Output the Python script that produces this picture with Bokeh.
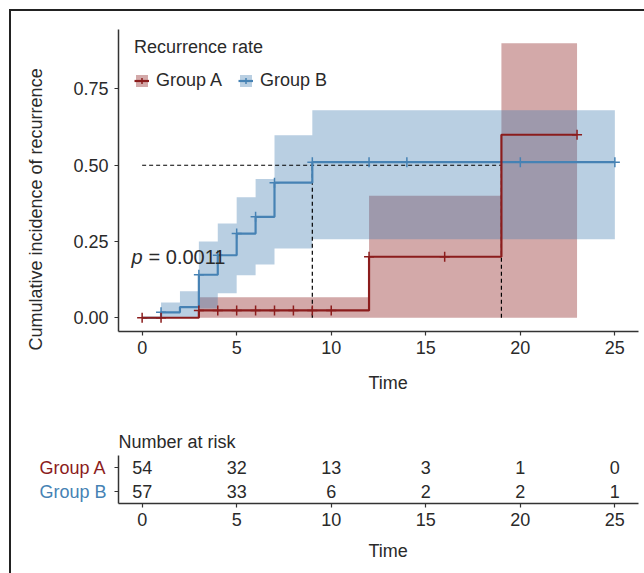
import numpy as np
from bokeh.plotting import figure
from bokeh.models import (Range1d, FixedTicker, NumeralTickFormatter, Legend,
                          LegendItem, Title)
from bokeh.layouts import column, row
from bokeh.core.properties import value
from bokeh.embed import file_html
from bokeh.resources import INLINE

FONT = "Liberation Sans"
TXT = "#2a2a2a"
AX = "#333333"

# ---------------- data ----------------
groups = ["Group A", "Group B"]
colors = ["#8B1C1C", "#4682B4"]

a_time = [0, 3, 12, 19, 23]
a_est = [0.0, 0.024, 0.20, 0.60, 0.60]
a_ci_time = [3, 12, 19, 23]
a_lower = [0.0, 0.0, 0.0, 0.0]
a_upper = [0.067, 0.40, 0.90, 0.90]
a_censor = [0, 1, 3, 4, 5, 6, 7, 8, 9, 10, 12, 16, 23]

b_time = [0, 1, 2, 3, 4, 5, 6, 7, 9, 25]
b_est = [0.0, 0.018, 0.035, 0.141, 0.205, 0.276, 0.331, 0.443, 0.51, 0.51]
b_ci_time = [1, 2, 3, 4, 5, 6, 7, 9, 25]
b_lower = [0.0, 0.0, 0.03, 0.08, 0.139, 0.175, 0.227, 0.257, 0.257]
b_upper = [0.05, 0.087, 0.25, 0.309, 0.395, 0.455, 0.598, 0.68, 0.68]
b_censor = [1, 3, 4, 5, 6, 7, 9, 12, 14, 20, 25]

median_times = [9, 19]
median_level = 0.5

x_ticks = [0, 5, 10, 15, 20, 25]
y_ticks = [0.0, 0.25, 0.50, 0.75]

risk_times = [0, 5, 10, 15, 20, 25]
risk_a = [54, 32, 13, 3, 1, 0]
risk_b = [57, 33, 6, 2, 2, 1]
risk_rows = [1.5, 0.5]

p_value_text = "= 0.0011"
p_pos = (-0.56, 0.2)


def step_lookup(times, est, at):
    idx = np.searchsorted(np.asarray(times), np.asarray(at), side="right") - 1
    return list(np.asarray(est)[idx])


def style_axes(fig):
    for ax in (fig.xaxis, fig.yaxis):
        ax.axis_line_color = AX
        ax.axis_line_width = 1.5
        ax.major_tick_line_color = AX
        ax.major_tick_line_width = 1.2
        ax.major_tick_out = 4
        ax.major_tick_in = 0
        ax.minor_tick_line_color = None
        ax.major_label_text_font = FONT
        ax.major_label_text_font_size = "18px"
        ax.major_label_text_color = TXT
    fig.xgrid.grid_line_color = None
    fig.ygrid.grid_line_color = None
    fig.outline_line_color = None
    fig.border_fill_color = None


def axis_title(fig, text, place, offset, standoff, valign="bottom"):
    t = Title(text=text, align="left", offset=offset, standoff=standoff,
              vertical_align=valign, text_font=FONT, text_font_size="18px",
              text_font_style="normal", text_color=TXT)
    fig.add_layout(t, place)


# ---------------- main plot ----------------
p = figure(width=644, height=409, x_range=Range1d(-1.25, 26.25),
           y_range=Range1d(-0.045, 0.945), output_backend="svg",
           toolbar_location=None, min_border_left=118, min_border_right=6,
           min_border_top=29, min_border_bottom=78)
style_axes(p)
p.xaxis.ticker = FixedTicker(ticks=x_ticks)
p.yaxis.ticker = FixedTicker(ticks=y_ticks)
p.yaxis.formatter = NumeralTickFormatter(format="0.00")
p.xaxis.major_label_standoff = 5
p.yaxis.major_label_standoff = 6
axis_title(p, "Time", "below", 250, 28)
axis_title(p, "Cumulative incidence of recurrence", "left", -19, 46, "top")

ra = p.varea_step(x=a_ci_time, y1=a_lower, y2=a_upper, step_mode="after",
                  fill_color=colors[0], fill_alpha=0.38)
rb = p.varea_step(x=b_ci_time, y1=b_lower, y2=b_upper, step_mode="after",
                  fill_color=colors[1], fill_alpha=0.38)

p.segment(x0=[0], y0=[median_level], x1=[max(median_times)], y1=[median_level],
          line_color="black", line_dash="4 3", line_width=1.2)
p.segment(x0=median_times, y0=[0, 0], x1=median_times,
          y1=[median_level] * len(median_times),
          line_color="black", line_dash="4 3", line_width=1.2)

lb = p.step(x=b_time, y=b_est, mode="after", line_color=colors[1], line_width=2.2)
la = p.step(x=a_time, y=a_est, mode="after", line_color=colors[0], line_width=2.2)
mb = p.scatter(x=b_censor, y=step_lookup(b_time, b_est, b_censor), marker="cross",
               size=10, line_color=colors[1], line_width=1.5)
ma = p.scatter(x=a_censor, y=step_lookup(a_time, a_est, a_censor), marker="cross",
               size=10, line_color=colors[0], line_width=1.5)

p.text(x=[p_pos[0]], y=[p_pos[1]], text=["p"], text_font=value(FONT),
       text_font_style="italic", text_font_size="20px", text_color=TXT,
       text_baseline="middle", text_align="left")
p.text(x=[p_pos[0]], y=[p_pos[1]], text=[p_value_text], text_font=value(FONT),
       text_font_size="20px", text_color=TXT, text_baseline="middle",
       text_align="left", x_offset=17)

legend = Legend(items=[LegendItem(label=groups[0], renderers=[ra, la, ma]),
                       LegendItem(label=groups[1], renderers=[rb, lb, mb])],
                orientation="horizontal", location=(16, 240),
                title="Recurrence rate", title_text_font=FONT,
                title_text_font_size="18px", title_text_font_style="normal",
                title_text_color=TXT, title_standoff=12,
                label_text_font=FONT, label_text_font_size="18px",
                label_text_color=TXT, glyph_width=15, glyph_height=15,
                label_standoff=7, spacing=16, padding=0, margin=0,
                border_line_color=None, background_fill_alpha=0)
p.add_layout(legend)

# ---------------- risk table ----------------
LAB_W = 107
RISK_H = 573 - 409
q = figure(width=644 - LAB_W, height=RISK_H, x_range=Range1d(-1.25, 26.25),
           y_range=Range1d(0, 2), output_backend="svg", toolbar_location=None,
           min_border_left=11, min_border_right=6, min_border_top=46,
           min_border_bottom=70, title="Number at risk")
style_axes(q)
q.title.align = "left"
q.title.text_font = FONT
q.title.text_font_size = "18px"
q.title.text_font_style = "normal"
q.title.text_color = TXT
q.title.standoff = 8
q.xaxis.ticker = FixedTicker(ticks=x_ticks)
q.yaxis.ticker = FixedTicker(ticks=risk_rows)
q.yaxis.major_label_overrides = {r: "" for r in risk_rows}
q.yaxis.major_label_standoff = 0
q.xaxis.major_label_standoff = 5
axis_title(q, "Time", "below", 250, 20)

for row_y, vals in zip(risk_rows, (risk_a, risk_b)):
    q.text(x=risk_times, y=[row_y] * len(risk_times), text=[str(v) for v in vals],
           text_font=value(FONT), text_font_size="18px", text_color=TXT,
           text_align="center", text_baseline="middle")

# row labels of the risk table, coloured per group
lab = figure(width=LAB_W, height=RISK_H, x_range=Range1d(0, 1), y_range=q.y_range,
             output_backend="svg", toolbar_location=None, x_axis_type=None,
             y_axis_type=None, min_border_left=0, min_border_right=0,
             min_border_top=46, min_border_bottom=70)
lab.outline_line_color = None
lab.xgrid.grid_line_color = None
lab.ygrid.grid_line_color = None
lab.border_fill_color = None
lab.background_fill_color = None
lab.text(x=[1, 1], y=risk_rows, text=groups, text_color=colors,
         text_font=value(FONT), text_font_size="18px", text_align="right",
         text_baseline="middle", x_offset=-1)

frame_css = ("linear-gradient(#222, #222) 9px 9px / 2px 100% no-repeat, "
             "linear-gradient(#222, #222) 9px 9px / 100% 2px no-repeat")
layout = column(p, row(lab, q), styles={"background": frame_css})

open("out.html", "w").write(file_html(layout, INLINE))
